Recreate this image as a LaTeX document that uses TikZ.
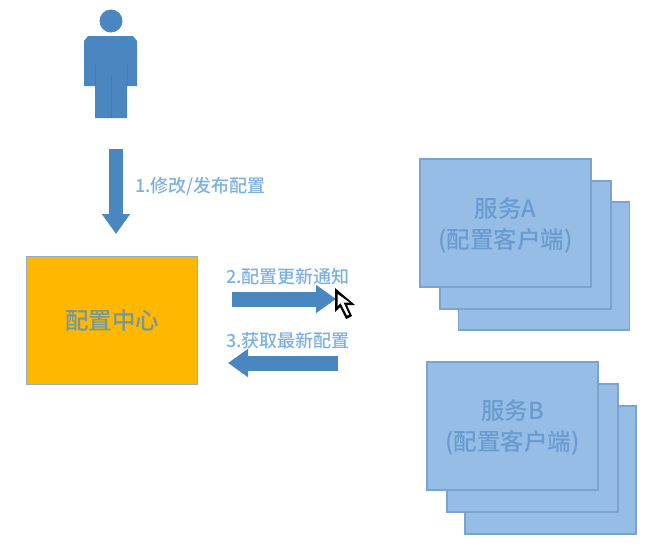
\documentclass[tikz,border=0pt]{standalone}
\usepackage{fontspec}
\usetikzlibrary{arrows.meta}
\setmainfont{Noto Sans CJK SC}[UprightFont=* Medium]
\definecolor{steel}{HTML}{4A86BF}
\definecolor{labelblue}{HTML}{7DB0E2}
\definecolor{cardfill}{HTML}{95BDE5}
\definecolor{cardline}{HTML}{7AA3D0}
\definecolor{cardtext}{HTML}{6A9BD0}
\definecolor{hub}{HTML}{FFB700}
\definecolor{hubline}{HTML}{8FB0C8}
\definecolor{hubtext}{HTML}{6F98A0}
\tikzset{
  x=1pt,y=-1pt,
  card/.style={draw=cardline,fill=cardfill,line width=1.2pt,minimum width=171pt,minimum height=128pt,inner sep=0pt,outer sep=0pt,anchor=north west},
  cardlabel/.style={inner sep=0pt,align=center,text=cardtext,font=\fontsize{23.5}{31}\selectfont},
  hubbox/.style={draw=hubline,fill=hub,line width=1.2pt,minimum width=171pt,minimum height=128pt,inner sep=0pt,anchor=north west,text=hubtext,font=\fontsize{23.5}{28}\selectfont},
  blockarrow/.style={draw=steel,line width=15pt,-{Triangle[length=20pt,width=27pt]}},
  steplabel/.style={inner sep=0pt,anchor=west,text=labelblue,font=\fontsize{18}{20}\selectfont},
}
\begin{document}
\begin{tikzpicture}
\useasboundingbox (0,0) rectangle (650,557);
% person
\fill[steel] (111,21) circle (11.5);
\fill[steel] (88,36) -- (133,36) -- (137,41) -- (137,86) -- (127,86) -- (127,118) -- (95,118) -- (95,86) -- (84,86) -- (84,41) -- cycle;
\draw[steel!92!black,line width=.4pt] (111,75) -- (111,118) (95,64) -- (95,86) (127,64) -- (127,86);
% hub
\node[hubbox] (center) at (26,256) {配置中心};
% arrow 1
\coordinate (a1s) at (116,149);
\coordinate (a1e) at (116,234);
\draw[blockarrow,line width=14pt] (a1s) -- (a1e);
\node[steplabel] (l1) at (135,186) {1.修改/发布配置};
% arrow 2
\coordinate (a2s) at (232,299);
\coordinate (a2e) at (336,299);
\draw[blockarrow] (a2s) -- (a2e);
\node[steplabel] (l2) at (226,277) {2.配置更新通知};
% arrow 3
\coordinate (a3s) at (338,363);
\coordinate (a3e) at (228,363);
\draw[blockarrow] (a3s) -- (a3e);
\node[steplabel] (l3) at (226,341) {3.获取最新配置};
% cursor
\fill[black] (335,288) -- (335,312) -- (340,307) -- (346,319) -- (352,316) -- (347,305) -- (355,305) -- cycle;
\fill[white] (337.5,294) -- (337.5,306) -- (340.5,303) -- (347,315.5) -- (349,314.5) -- (343.5,302.5) -- (349.5,302.5) -- cycle;
% service A
\node[card] (a3) at (458.5,202) {};
\node[card] (a2) at (440,181) {};
\node[card] (a1) at (420,159) {};
\node[cardlabel] (a1t) at (505.5,225) {服务A\\(配置客户端)};
% service B
\node[card] (b3) at (465,406) {};
\node[card] (b2) at (447,384) {};
\node[card] (b1) at (427,362) {};
\node[cardlabel] (b1t) at (512.5,427) {服务B\\(配置客户端)};
\end{tikzpicture}
\end{document}
